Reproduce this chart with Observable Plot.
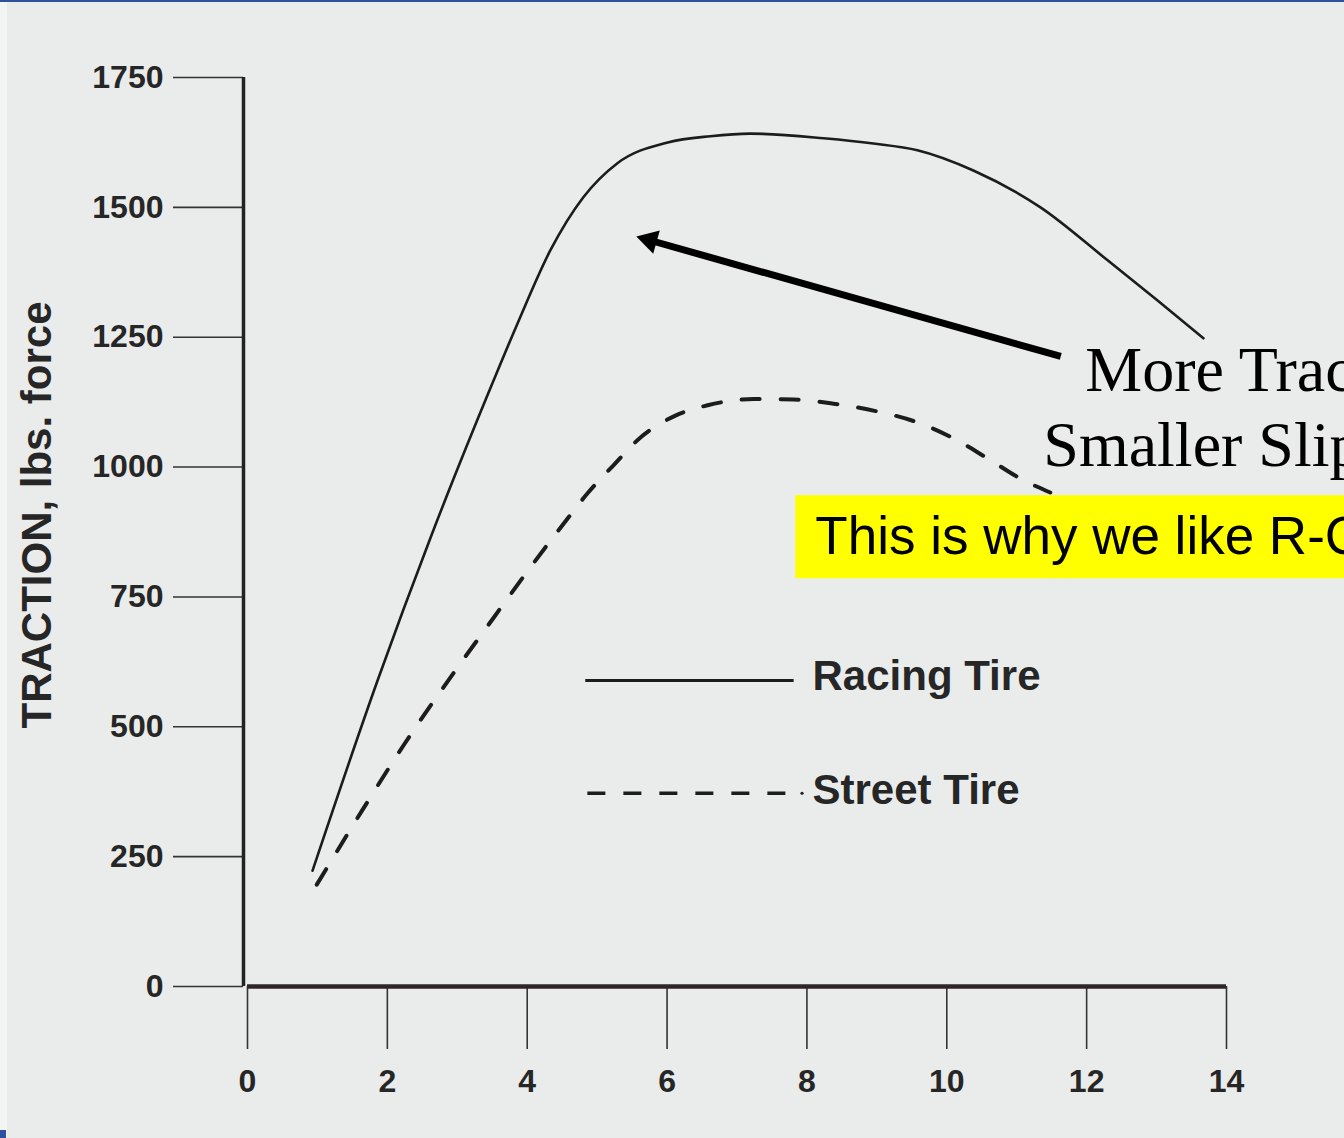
<!DOCTYPE html>
<html>
<head>
<meta charset="utf-8">
<script src="https://cdn.jsdelivr.net/npm/d3@7"></script>
<script src="https://cdn.jsdelivr.net/npm/@observablehq/plot@0.6"></script>
<style>
  html, body { margin: 0; padding: 0; background: #e9eceb; overflow: hidden; }
  #wrap { position: relative; width: 1344px; height: 1138px; overflow: hidden; }
  #topbar { position: absolute; left: 0; top: 0; width: 1344px; height: 2px; background: #2f4f9f; }
  #leftstrip { position: absolute; left: 0; top: 2px; width: 7px; height: 1136px; background: #f3f5f4; }
  #corner { position: absolute; left: 0; bottom: 0; width: 6px; height: 8px; background: #2f4f9f; }
  #chart { position: absolute; left: 0; top: 0; }
</style>
</head>
<body>
<div id="wrap">
  <div id="leftstrip"></div>
  <div id="chart"></div>
  <div id="topbar"></div>
  <div id="corner"></div>
</div>
<script>
// ---- Data ----
const racingSlip     = [0.93, 1.86, 2.62, 3.52, 3.86, 4.33, 4.80, 5.29, 6.01, 6.62, 7.19, 8.24, 8.95, 9.58, 10.38, 11.34, 12.30, 13.01, 13.67];
const racingTraction = [223,  589,  865,  1167, 1276, 1417, 1519, 1585, 1625, 1637, 1642, 1633, 1623, 1610, 1571,  1500,  1398,  1321,  1248];

const streetSlip     = [0.99, 1.64, 2.23, 2.87, 3.52, 3.93, 4.52, 4.86, 5.23, 5.62, 6.12, 6.58, 7.24, 7.81, 8.38, 9.01, 9.58, 10.10, 10.58, 11.05, 11.48];
const streetTraction = [196,  339,  464,  589,  710,  786,  891,  949,  1003, 1057, 1099, 1119, 1131, 1130, 1122, 1107, 1086, 1055,  1017,  978,   951];

const xTicks = [0, 2, 4, 6, 8, 10, 12, 14];
const yTicks = [0, 250, 500, 750, 1000, 1250, 1500, 1750];

const seriesNames = ["Racing Tire", "Street Tire"];
const yAxisLabel = "TRACTION, lbs. force";
const noteLines = ["More Traction", "Smaller Slip"];
const highlight = "This is why we like R-Compounds";

// ---- Layout ----
const W = 1344, H = 1138;
const mL = 247, mR = 118, mT = 77, mB = 152;
const kx = (W - mL - mR) / 14;      // px per slip unit
const ky = (H - mT - mB) / 1750;    // px per lb

const racing = racingSlip.map((s, i) => ({slip: s, traction: racingTraction[i]}));
const street = streetSlip.map((s, i) => ({slip: s, traction: streetTraction[i]}));

// arrow (annotation) in data units
const arrowTail = {slip: 11.63, traction: 1213};
const arrowTip  = {slip: 5.56,  traction: 1444};
const sdx = (arrowTip.slip - arrowTail.slip) * kx;
const sdy = -(arrowTip.traction - arrowTail.traction) * ky;
const slen = Math.hypot(sdx, sdy);
const ux = sdx / slen, uy = sdy / slen;
const headR = 9;
const tipOff = 2 * Math.sqrt(Math.PI * headR * headR / (3 * Math.sqrt(3)));
const headCenter = {slip: arrowTip.slip - tipOff * ux / kx, traction: arrowTip.traction + tipOff * uy / ky};
const headAngle = Math.atan2(sdy, sdx) * 180 / Math.PI + 90;

// legend layout in data units
const legendSolid = [{name: seriesNames[0], x1: 4.83, x2: 7.81, y: 589, ty: 596}];
const legendDash  = [{name: seriesNames[1], x1: 4.86, x2: 7.70, y: 372, ty: 378}];

const ink = "#1c1c1c";
const sans = "'Liberation Sans', Arial, Helvetica, sans-serif";
const serif = "'Liberation Serif', 'Times New Roman', serif";

const plot = Plot.plot({
  width: W,
  height: H,
  marginLeft: mL, marginRight: mR, marginTop: mT, marginBottom: mB,
  style: {background: "transparent", overflow: "hidden", fontFamily: sans, color: ink},
  x: {domain: [0, 14]},
  y: {domain: [0, 1750]},
  marks: [
    // yellow highlight box
    Plot.rect([highlight], {x1: 7.84, x2: 16, y1: 785, y2: 945, fill: "#ffff00", clip: false}),
    Plot.text([highlight], {x: 8.12, y: 865, text: d => d, textAnchor: "start", fontSize: 53, fontFamily: sans, fill: "#000", clip: false}),

    // axes
    Plot.axisY({ticks: yTicks, tickSize: 70, tickPadding: 10, dx: -4, tickFormat: d => String(d),
      fontSize: 32, fontWeight: "bold", fontFamily: sans, stroke: "#333", strokeWidth: 1.6, color: "#262626", label: null}),
    Plot.axisX({ticks: xTicks, tickSize: 63, tickPadding: 20, tickFormat: d => String(d),
      fontSize: 32, fontWeight: "bold", fontFamily: sans, stroke: "#333", strokeWidth: 1.6, color: "#262626", label: null}),
    Plot.ruleX([0], {y1: 0, y2: 1750, dx: -4, stroke: "#222", strokeWidth: 3.5}),
    Plot.ruleY([0], {x1: 0, x2: 14, stroke: "#2e2626", strokeWidth: 4.5}),

    Plot.text([yAxisLabel], {frameAnchor: "left", textAnchor: "middle", dx: -210, dy: -17, rotate: -90, text: d => d,
      fontSize: 42, fontWeight: "bold", fontFamily: sans, fill: "#262626"}),

    // curves
    Plot.line(racing, {x: "slip", y: "traction", curve: "monotone-x", stroke: ink, strokeWidth: 2.6}),
    Plot.line(street, {x: "slip", y: "traction", curve: "monotone-x", stroke: ink, strokeWidth: 4, strokeDasharray: "18,21"}),

    // legend
    Plot.link(legendSolid, {x1: "x1", x2: "x2", y1: "y", y2: "y", stroke: ink, strokeWidth: 3}),
    Plot.link(legendDash, {x1: "x1", x2: "x2", y1: "y", y2: "y", stroke: ink, strokeWidth: 3.5, strokeDasharray: "18,18"}),
    Plot.dot(legendDash, {x: 7.93, y: "y", r: 1.6, fill: ink}),
    Plot.text([...legendSolid, ...legendDash], {x: 8.08, y: "ty", text: "name", textAnchor: "start", fontSize: 42, fontWeight: "bold", fontFamily: sans, fill: "#262626"}),

    // arrow annotation
    Plot.link([arrowTail], {x1: "slip", y1: "traction", x2: headCenter.slip, y2: headCenter.traction, stroke: "#000", strokeWidth: 7}),
    Plot.dot([headCenter], {x: "slip", y: "traction", symbol: "triangle", r: headR, fill: "#000", stroke: "none", rotate: headAngle}),

    Plot.text([noteLines[0]], {x: 11.98, y: 1186, text: d => d, textAnchor: "start", fontSize: 64, fontFamily: serif, fill: "#000", clip: false}),
    Plot.text([noteLines[1]], {x: 11.38, y: 1042, text: d => d, textAnchor: "start", fontSize: 64, fontFamily: serif, fill: "#000", clip: false})
  ]
});
document.getElementById("chart").appendChild(plot);
</script>
</body>
</html>
